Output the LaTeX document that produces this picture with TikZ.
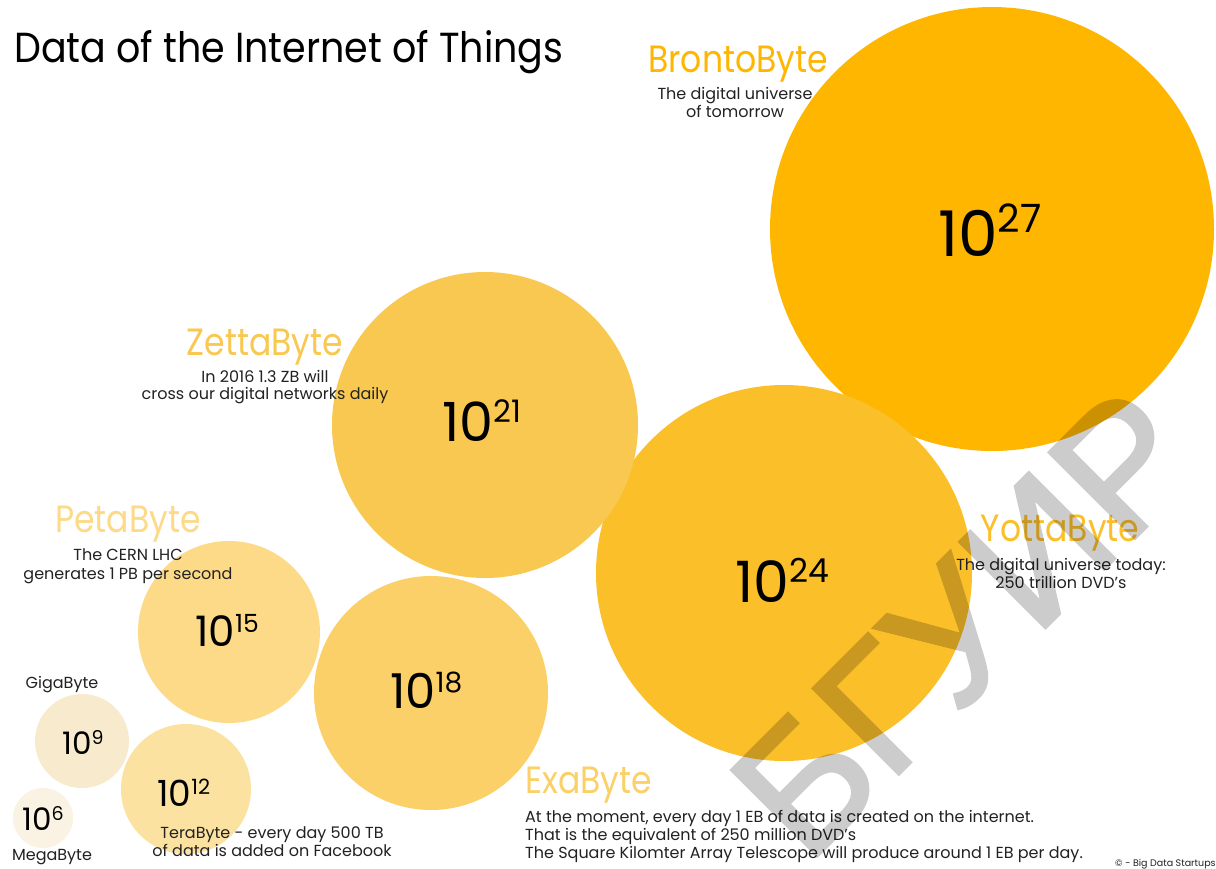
\documentclass[tikz,border=0pt]{standalone}
\usepackage{fontspec}
\setmainfont{Poppins}
\newfontfamily\bigfont{Poppins}[FakeStretch=0.87]
\newfontfamily\titlefont{Poppins}[FakeStretch=0.905]
\newfontfamily\wmfont{Liberation Sans}
\definecolor{c27}{RGB}{254,182,0}
\definecolor{c24}{RGB}{251,191,42}
\definecolor{c21}{RGB}{249,200,80}
\definecolor{c18}{RGB}{251,208,104}
\definecolor{c15}{RGB}{252,218,135}
\definecolor{c12}{RGB}{252,226,160}
\definecolor{c9}{RGB}{248,234,204}
\definecolor{c6}{RGB}{250,242,226}
\definecolor{txt}{RGB}{34,34,34}
\newcommand\fs[1]{\fontsize{#1}{#1}\selectfont}
\newcommand\pwr[4]{\fs{#1}10\raisebox{#2pt}{\fs{#3}#4}}
\tikzset{
  bubble/.style={circle, inner sep=0pt, draw=none},
  num/.style={anchor=base west, inner sep=0pt, text=black},
  big/.style={anchor=base, inner sep=0pt, font=\bigfont\fs{38}},
  small/.style={anchor=base, inner sep=0pt, font=\fs{16}, text=txt},
  wmark/.style={rotate=45, anchor=base west, inner sep=0pt, text=black, font=\wmfont\fs{176}},
}
\begin{document}
\begin{tikzpicture}[x=1pt,y=-1pt]
\useasboundingbox (0,0) rectangle (1216,868);
\fill[white] (0,0) rectangle (1216,868);
% bubbles
\node[bubble, fill=c27, minimum size=444pt] (b27) at (992,229) {};
\node[bubble, fill=c24, minimum size=376pt] (b24) at (784,573) {};
\node[bubble, fill=c21, minimum size=306pt] (b21) at (485,425) {};
\node[bubble, fill=c18, minimum size=234pt] (b18) at (431,693) {};
\node[bubble, fill=c15, minimum size=182pt] (b15) at (229,632) {};
\node[bubble, fill=c12, minimum size=130pt] (b12) at (186,789) {};
\node[bubble, fill=c9, minimum size=94pt] (b9) at (82,741) {};
\node[bubble, fill=c6, minimum size=60pt] (b6) at (43,818) {};
% numbers
\node[num] (n27) at (938,256) {\pwr{63}{24}{39}{27}};
\node[num] (n24) at (735,602) {\pwr{57}{20}{33}{24}};
\node[num] (n21) at (442,441) {\pwr{54}{19}{31}{21}};
\node[num] (n18) at (390,708) {\pwr{48}{16}{28}{18}};
\node[num] (n15) at (195,646) {\pwr{42}{14}{25}{15}};
\node[num] (n12) at (157,806) {\pwr{36}{12}{21}{12}};
\node[num] (n9) at (62,754) {\pwr{31}{10}{19}{9}};
\node[num] (n6) at (22,830) {\pwr{31}{10}{19}{6}};
% title
\node[anchor=base west, inner sep=0pt] (title) at (14,62) {\titlefont\fs{42}Data of the Internet of Things};
% labels
\node[big, text=c27] (lb27) at (738,72) {BrontoByte};
\node[small] (d27a) at (735,99) {The digital universe};
\node[small] (d27b) at (735,117) {of tomorrow};
\node[big, text=c21] (lb21) at (265,355) {ZettaByte};
\node[small] (d21a) at (265,382) {In 2016 1.3 ZB will};
\node[small] (d21b) at (265,399) {cross our digital networks daily};
\node[big, text=c15] (lb15) at (128,532) {PetaByte};
\node[small] (d15a) at (128,560) {The CERN LHC};
\node[small] (d15b) at (128,579) {generates 1 PB per second};
\node[small] (lb9) at (62,688) {GigaByte};
\node[small] (lb6) at (52,860) {MegaByte};
\node[small] (d12a) at (272,838) {TeraByte - every day 500 TB};
\node[small] (d12b) at (272,856) {of data is added on Facebook};
\node[big, text=c18, anchor=base west] (lb18) at (525,793) {ExaByte};
\node[small, anchor=base west] (d18a) at (525,822) {At the moment, every day 1 EB of data is created on the internet.};
\node[small, anchor=base west] (d18b) at (525,840) {That is the equivalent of 250 million DVD’s};
\node[small, anchor=base west] (d18c) at (525,858) {The Square Kilomter Array Telescope will produce around 1 EB per day.};
\node[big, text=c24] (lb24) at (1060,541) {YottaByte};
\node[small] (d24a) at (1061,570) {The digital universe today:};
\node[small] (d24b) at (1061,588) {250 trillion DVD’s};
\node[anchor=base west, inner sep=0pt, font=\fs{9.5}, text=txt] (copy) at (1115,866) {© - Big Data Startups};
% watermark (overlay): one text, outlined to thicken its strokes
\begin{scope}[transparency group, opacity=0.2]
\node[wmark] (wm) at (807,866) {\special{pdf:code 2 Tr 3.2 w}БГУИР\special{pdf:code 0 Tr}};
\end{scope}
\end{tikzpicture}
\end{document}
